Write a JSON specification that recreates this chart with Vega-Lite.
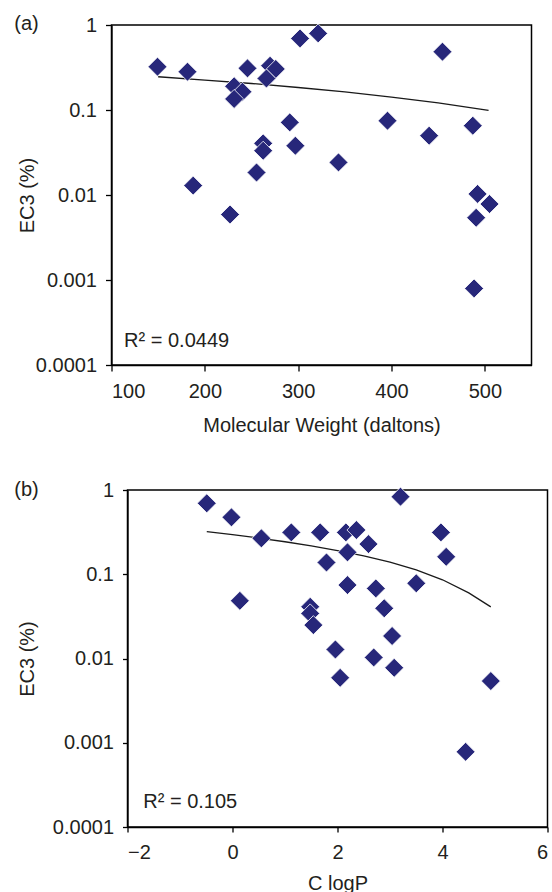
{
  "$schema": "https://vega.github.io/schema/vega-lite/v6.json",
  "background": "white",
  "padding": {"left": 12.5, "top": 12, "right": 0, "bottom": 0},
  "spacing": 42,
  "config": {
    "font": "Liberation Sans",
    "view": {"stroke": "black", "strokeWidth": 1.5},
    "axis": {"labelFont": "Liberation Sans", "labelFontSize": 20, "labelColor": "#231f20", "titleFont": "Liberation Sans", "titleFontSize": 20, "titleFontWeight": "normal", "titleColor": "#231f20", "domainColor": "black", "domainWidth": 1.3, "tickColor": "black", "tickWidth": 1.3, "grid": false}
  },
  "datasets": {
    "pa": [
      {"x": 149.3, "y": 0.323}, {"x": 181.4, "y": 0.282}, {"x": 245.7, "y": 0.309}, {"x": 302, "y": 0.695}, {"x": 321.4, "y": 0.797},
      {"x": 269.9, "y": 0.332}, {"x": 276, "y": 0.304}, {"x": 266, "y": 0.235}, {"x": 231.4, "y": 0.19}, {"x": 240.3, "y": 0.164},
      {"x": 231.4, "y": 0.135}, {"x": 291, "y": 0.0715}, {"x": 262.5, "y": 0.0405}, {"x": 262.5, "y": 0.0332}, {"x": 297, "y": 0.038},
      {"x": 255.4, "y": 0.0184}, {"x": 187.5, "y": 0.0129}, {"x": 227, "y": 0.0059}, {"x": 343.2, "y": 0.0242}, {"x": 454.6, "y": 0.485},
      {"x": 395.7, "y": 0.0748}, {"x": 440.3, "y": 0.0499}, {"x": 487.1, "y": 0.0654}, {"x": 492.2, "y": 0.0103}, {"x": 505, "y": 0.00783},
      {"x": 490.7, "y": 0.0054}, {"x": 488.5, "y": 0.000796}
    ],
    "la": [
      {"x": 150, "y": 0.246}, {"x": 200, "y": 0.225}, {"x": 250, "y": 0.205}, {"x": 300, "y": 0.184},
      {"x": 350, "y": 0.163}, {"x": 400, "y": 0.142}, {"x": 450, "y": 0.121}, {"x": 504, "y": 0.099}
    ],
    "ta": [
      {"x": 113.5, "y": 0.00019, "t": "R² = 0.0449", "b": "alphabetic"},
      {"x": -4.1, "y": 1.04, "t": "(a)", "b": "middle"}
    ],
    "pb": [
      {"x": -0.49, "y": 0.695}, {"x": -0.02, "y": 0.474}, {"x": 0.55, "y": 0.267}, {"x": 1.12, "y": 0.314}, {"x": 1.67, "y": 0.314},
      {"x": 2.16, "y": 0.314}, {"x": 2.36, "y": 0.335}, {"x": 2.59, "y": 0.228}, {"x": 3.2, "y": 0.833}, {"x": 3.97, "y": 0.314},
      {"x": 4.07, "y": 0.161}, {"x": 1.79, "y": 0.138}, {"x": 2.19, "y": 0.182}, {"x": 2.19, "y": 0.0744}, {"x": 2.73, "y": 0.0679},
      {"x": 3.5, "y": 0.078}, {"x": 2.89, "y": 0.0394}, {"x": 1.48, "y": 0.0411}, {"x": 1.48, "y": 0.0343}, {"x": 1.54, "y": 0.0249},
      {"x": 0.14, "y": 0.0484}, {"x": 3.04, "y": 0.0185}, {"x": 1.96, "y": 0.0128}, {"x": 2.69, "y": 0.0103}, {"x": 3.08, "y": 0.00776},
      {"x": 2.05, "y": 0.0059}, {"x": 4.92, "y": 0.0054}, {"x": 4.44, "y": 0.00078}
    ],
    "lb": [
      {"x": -0.49, "y": 0.32}, {"x": 0, "y": 0.295}, {"x": 0.5, "y": 0.269}, {"x": 1, "y": 0.243}, {"x": 1.5, "y": 0.217}, {"x": 2, "y": 0.191},
      {"x": 2.5, "y": 0.165}, {"x": 3, "y": 0.139}, {"x": 3.5, "y": 0.113}, {"x": 4, "y": 0.086}, {"x": 4.5, "y": 0.06}, {"x": 4.92, "y": 0.041}
    ],
    "tb": [
      {"x": -1.7, "y": 0.0002, "t": "R² = 0.105", "b": "alphabetic"},
      {"x": -4.156, "y": 0.99, "t": "(b)", "b": "middle"}
    ]
  },
  "vconcat": [
    {
      "spacing": 0,
      "hconcat": [
        {"width": 1, "height": 1, "data": {"values": []}, "mark": "point", "view": {"stroke": null}},
        {
          "width": 420,
          "height": 340,
          "encoding": {
            "x": {"field": "x", "type": "quantitative", "scale": {"domain": [100, 550], "nice": false, "zero": false},
                  "axis": {"title": "Molecular Weight (daltons)", "values": [100, 200, 300, 400, 500], "tickSize": 6, "labelPadding": 10.5, "titlePadding": 14}},
            "y": {"field": "y", "type": "quantitative", "scale": {"type": "log", "domain": [0.0001, 1], "nice": false},
                  "axis": {"title": "EC3 (%)", "values": [0.0001, 0.001, 0.01, 0.1, 1], "format": "~g", "tickSize": 6, "labelPadding": 9, "titlePadding": -2}}
          },
          "layer": [
            {"data": {"name": "la"}, "mark": {"type": "line", "color": "#1a1a1a", "strokeWidth": 1.3}},
            {"data": {"name": "pa"}, "mark": {"type": "point", "shape": "diamond", "filled": true, "size": 360, "color": "#27277a", "opacity": 1, "stroke": "white", "strokeWidth": 0.8}},
            {"data": {"name": "ta"}, "mark": {"type": "text", "align": "left", "fontSize": 20, "color": "#231f20"}, "encoding": {"text": {"field": "t"}, "baseline": {"field": "b", "type": "nominal", "scale": null}}}
          ]
        }
      ]
    },
    {
      "spacing": 0,
      "hconcat": [
        {"width": 1, "height": 1, "data": {"values": []}, "mark": "point", "view": {"stroke": null}},
        {
          "width": 420,
          "height": 337,
          "encoding": {
            "x": {"field": "x", "type": "quantitative", "scale": {"domain": [-2, 6], "nice": false, "zero": false},
                  "axis": {"title": "C logP", "values": [-2, 0, 2, 4, 6], "tickSize": 5, "labelPadding": 10, "titlePadding": 11}},
            "y": {"field": "y", "type": "quantitative", "scale": {"type": "log", "domain": [0.0001, 1], "nice": false},
                  "axis": {"title": "EC3 (%)", "values": [0.0001, 0.001, 0.01, 0.1, 1], "format": "~g", "tickSize": 5, "labelPadding": 9, "titlePadding": 15}}
          },
          "layer": [
            {"data": {"name": "lb"}, "mark": {"type": "line", "color": "#1a1a1a", "strokeWidth": 1.3}},
            {"data": {"name": "pb"}, "mark": {"type": "point", "shape": "diamond", "filled": true, "size": 360, "color": "#27277a", "opacity": 1, "stroke": "white", "strokeWidth": 0.8}},
            {"data": {"name": "tb"}, "mark": {"type": "text", "align": "left", "fontSize": 20, "color": "#231f20"}, "encoding": {"text": {"field": "t"}, "baseline": {"field": "b", "type": "nominal", "scale": null}}}
          ]
        }
      ]
    }
  ]
}
